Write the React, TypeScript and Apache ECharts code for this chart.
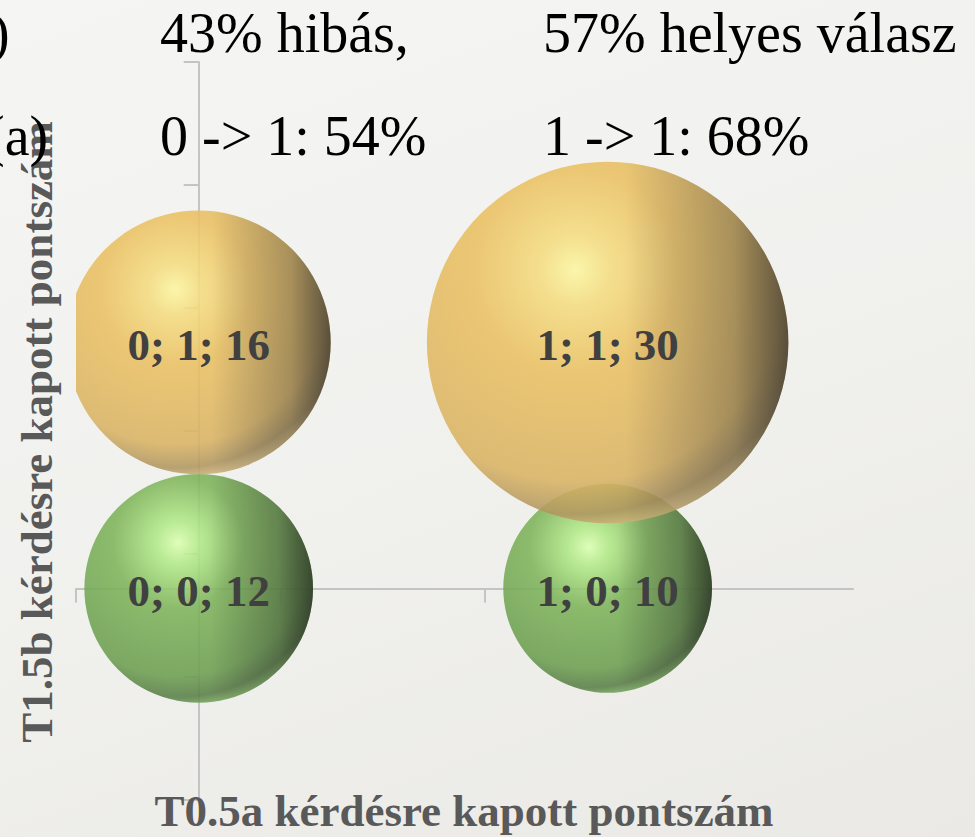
import React, { useEffect, useRef } from "react";
import * as echarts from "echarts";

// T0.5a score (x), T1.5b score (y), number of students (bubble size)
const wrongX = [0, 1];
const wrongY = [0, 0];
const wrongCount = [12, 10];
const rightX = [0, 1];
const rightY = [1, 1];
const rightCount = [16, 30];

// Axis tick positions (as drawn by the original spreadsheet chart)
const xTicks = [-0.3, 0.2, 0.7, 1.2];
const yTicks = [-0.86, -0.36, 0.14, 0.64, 1.14, 1.64, 2.14];

// Slide texts
const clippedLeft = [")", "(a)"];
const headerLeft = ["43% hibás,", "0 -> 1: 54%"];
const headerRight = ["57% helyes válasz", "1 -> 1: 68%"];
const xTitle = "T0.5a kérdésre kapott pontszám";
const yTitle = "T1.5b kérdésre kapott pontszám";

const SERIF = '"Liberation Serif", "Times New Roman", serif';
const BUBBLE_RADIUS_PER_SQRT = 33;

type Palette = { hi: string; light: string; main: string; main2: string; dark: string; rim: string; shade: string };

const yellow: Palette = {
  hi: "#fcf6a0",
  light: "#f4dc80",
  main: "#eac062",
  main2: "#d9b363",
  dark: "#b09660",
  rim: "#e8cf8e",
  shade: "60,55,45",
};
const green: Palette = {
  hi: "#dcffb2",
  light: "#b0e886",
  main: "#7eb45a",
  main2: "#6c9e50",
  dark: "#597e47",
  rim: "#92cc72",
  shade: "40,50,35",
};

function makeRender(p: Palette) {
  return (params: any, api: any) => {
    const x = api.value(0);
    const y = api.value(1);
    const n = api.value(2);
    const c = api.coord([x, y]);
    const r = BUBBLE_RADIUS_PER_SQRT * Math.sqrt(n);
    const base = new echarts.graphic.RadialGradient(0.41, 0.3, 0.75, [
      { offset: 0, color: p.hi },
      { offset: 0.13, color: p.light },
      { offset: 0.38, color: p.main },
      { offset: 0.78, color: p.main2 },
      { offset: 0.9, color: p.dark },
      { offset: 1, color: p.rim },
    ]);
    const shade = new echarts.graphic.LinearGradient(0, 0, 1, 0, [
      { offset: 0, color: `rgba(${p.shade},0)` },
      { offset: 0.55, color: `rgba(${p.shade},0)` },
      { offset: 0.85, color: `rgba(${p.shade},0.35)` },
      { offset: 1, color: `rgba(${p.shade},0.8)` },
    ]);
    return {
      type: "group",
      children: [
        { type: "circle", shape: { cx: c[0], cy: c[1], r }, style: { fill: base, opacity: 0.88 } },
        { type: "circle", shape: { cx: c[0], cy: c[1], r }, style: { fill: shade } },
        {
          type: "text",
          x: c[0],
          y: c[1] + 3,
          style: {
            text: `${x}; ${y}; ${n}`,
            align: "center",
            verticalAlign: "middle",
            fontFamily: SERIF,
            fontWeight: "bold",
            fontSize: 45,
            fill: "#404040",
          },
        },
      ],
    };
  };
}

export default function App() {
  const ref = useRef<HTMLDivElement>(null);
  useEffect(() => {
    const chart = echarts.init(ref.current!, null, { renderer: "svg" });
    const axisColor = "#c4c4c4";
    const headerStyle = { fontFamily: SERIF, fontSize: 56, fill: "#000", align: "left", verticalAlign: "middle" };
    const titleStyle = {
      fontFamily: SERIF,
      fontWeight: "bold",
      fontSize: 45,
      fill: "#595959",
      align: "center",
      verticalAlign: "middle",
    };
    const rowY = [33, 136];
    const option: any = {
      animation: false,
      backgroundColor: "transparent",
      grid: { left: 76, right: 122, top: 62, bottom: 37, containLabel: false, outerBoundsMode: "none" },
      xAxis: {
        type: "value",
        min: -0.3,
        max: 1.6,
        axisLine: { show: true, onZero: true, lineStyle: { color: axisColor, width: 2 } },
        axisTick: { show: true, length: 14, customValues: xTicks, lineStyle: { color: axisColor, width: 2 } },
        axisLabel: { show: false },
        splitLine: { show: false },
      },
      yAxis: {
        type: "value",
        min: -0.86,
        max: 2.14,
        axisLine: { show: true, onZero: true, lineStyle: { color: axisColor, width: 2 } },
        axisTick: { show: true, length: 15, customValues: yTicks, lineStyle: { color: axisColor, width: 2 } },
        axisLabel: { show: false },
        splitLine: { show: false },
      },
      series: [
        {
          name: "0 pont",
          type: "custom",
          clip: true,
          silent: true,
          encode: { x: 0, y: 1 },
          data: wrongX.map((x, i) => [x, wrongY[i], wrongCount[i]]),
          renderItem: makeRender(green),
        },
        {
          name: "1 pont",
          type: "custom",
          clip: true,
          silent: true,
          encode: { x: 0, y: 1 },
          data: rightX.map((x, i) => [x, rightY[i], rightCount[i]]),
          renderItem: makeRender(yellow),
        },
      ],
      graphic: [
        { type: "text", x: 464, y: 811, z: 10, style: { ...titleStyle, text: xTitle } },
        { type: "text", x: 37, y: 432, rotation: Math.PI / 2, z: 10, style: { ...titleStyle, text: yTitle } },
        { type: "text", x: -9, y: rowY[0], z: 11, style: { ...headerStyle, text: clippedLeft[0] } },
        { type: "text", x: -14, y: rowY[1], z: 11, style: { ...headerStyle, text: clippedLeft[1] } },
        { type: "text", x: 160, y: rowY[0], z: 11, style: { ...headerStyle, text: headerLeft[0] } },
        { type: "text", x: 160, y: rowY[1], z: 11, style: { ...headerStyle, text: headerLeft[1] } },
        { type: "text", x: 543, y: rowY[0], z: 11, style: { ...headerStyle, text: headerRight[0] } },
        { type: "text", x: 543, y: rowY[1], z: 11, style: { ...headerStyle, text: headerRight[1] } },
      ],
    };
    chart.setOption(option);
    return () => chart.dispose();
  }, []);
  return (
    <div
      ref={ref}
      style={{
        position: "fixed",
        left: 0,
        top: 0,
        width: 975,
        height: 837,
        background: "linear-gradient(160deg, #f5f5f4 0%, #f0f0ed 55%, #eae9e5 100%)",
      }}
    />
  );
}
